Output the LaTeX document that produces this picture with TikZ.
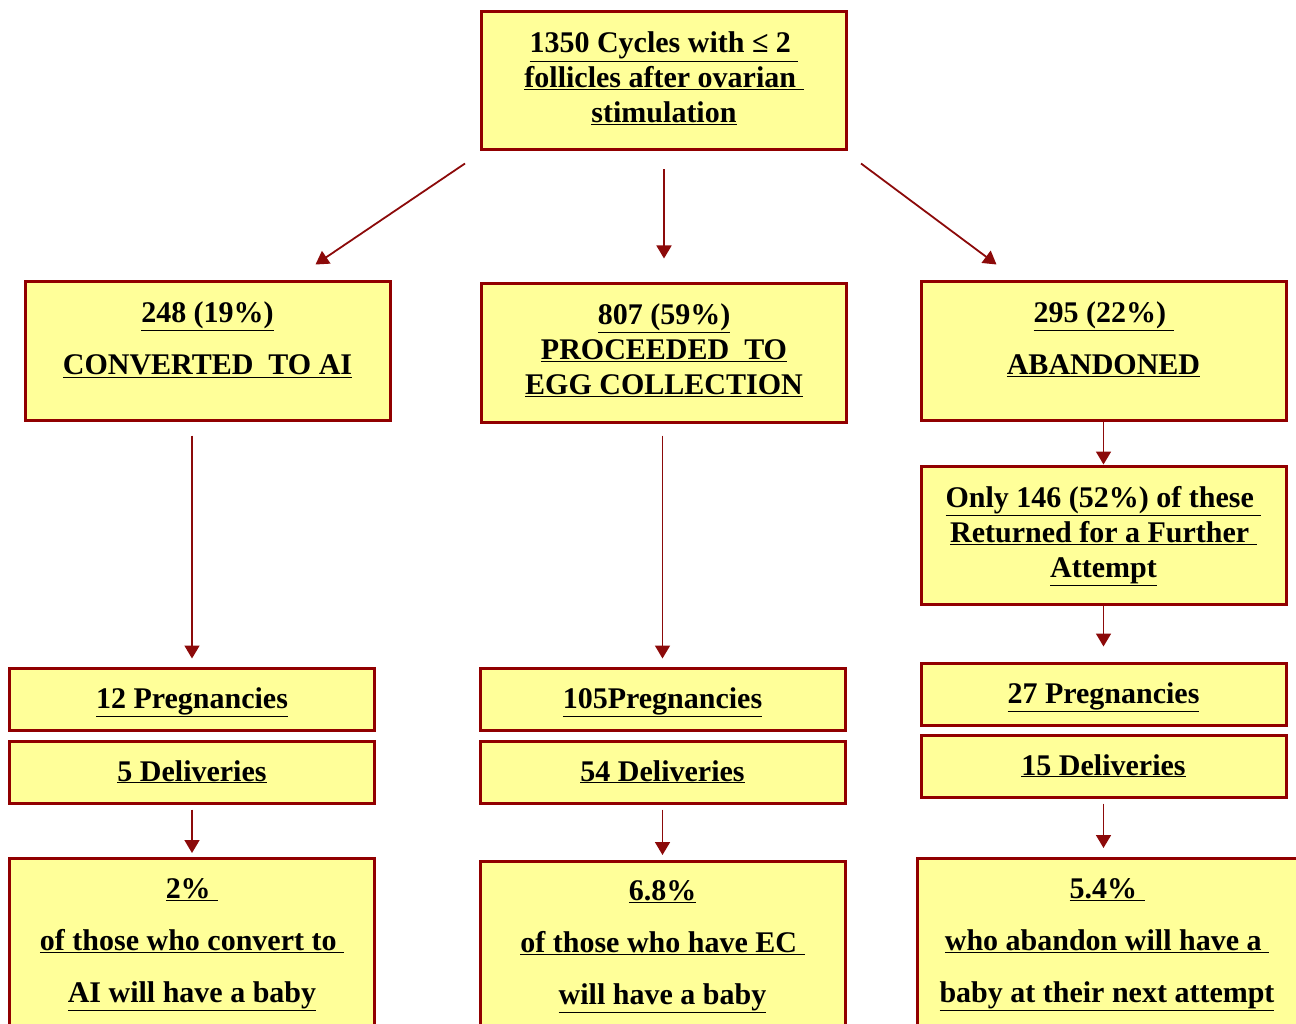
\documentclass[tikz,border=0pt]{standalone}
\usepackage{fontspec}
\setmainfont{Liberation Serif}
\usetikzlibrary{arrows.meta,calc}
\definecolor{boxred}{RGB}{145,0,0}
\definecolor{boxfill}{RGB}{255,255,153}
\definecolor{arrred}{RGB}{140,10,10}
\newcommand{\uln}[1]{\underline{#1}}
\tikzset{
  box/.style={draw=boxred, fill=boxfill, line width=3pt, minimum width=365pt,
    minimum height=138pt, inner sep=0pt, align=center,
    font=\bfseries\fontsize{30}{35}\selectfont},
  thinbox/.style={box, minimum height=62pt, text height=24pt, text depth=6pt},
  arr/.style={draw=arrred, line width=1.8pt, -{Triangle[length=13pt,width=15pt]}}
}
\begin{document}
\begin{tikzpicture}[x=1pt,y=-1pt]
    \useasboundingbox (0,0) rectangle (1296,1024);
    \clip (0,0) rectangle (1296,1024);
    % first row
    \node [box, text depth=7pt] (cycles) at (664,81) {\uln{1350 Cycles with ≤ 2\ }\\ \uln{follicles after ovarian\ }\\ \uln{stimulation}};
    % second row
    \node [box, text depth=25pt] (ai) at (207.5,351) {\uln{248 (19\%)}\\[17pt] \uln{CONVERTED\ \ TO AI}};
    \node [box, text depth=8pt] (ec) at (664,353) {\uln{807 (59\%)}\\ \uln{PROCEEDED\ \ TO}\\ \uln{EGG COLLECTION}};
    \node [box, text depth=25pt] (abandoned) at (1103.5,351) {\uln{295 (22\%)\ }\\[17pt] \uln{ABANDONED}};
    \node [box, text depth=7pt] (returned) at (1103.5,535) {\uln{Only 146 (52\%) of these\ }\\ \uln{Returned for a Further\ }\\ \uln{Attempt}};
    % pregnancies and deliveries
    \node [thinbox] (pregAI) at (192,699) {\uln{12 Pregnancies}};
    \node [thinbox] (pregEC) at (662.5,699) {\uln{105Pregnancies}};
    \node [thinbox] (pregAB) at (1103.5,694) {\uln{27 Pregnancies}};
    \node [thinbox] (delAI) at (192,772) {\uln{5 Deliveries}};
    \node [thinbox] (delEC) at (662.5,772) {\uln{54 Deliveries}};
    \node [thinbox] (delAB) at (1103.5,766) {\uln{15 Deliveries}};
    % results, cut by the page
    \node [box, anchor=north, minimum height=200pt, text depth=36pt] (resAI) at (192,857) {\uln{2\%\ }\\[17pt] \uln{of those who convert to\ }\\[17pt] \uln{AI will have a baby}};
    \node [box, anchor=north, minimum height=200pt, text depth=38pt] (resEC) at (662.5,860) {\uln{6.8\%}\\[17pt] \uln{of those who have EC\ }\\[17pt] \uln{will have a baby}};
    \node [box, anchor=north, minimum height=200pt, minimum width=380pt, text depth=36pt] (resAB) at (1107,857) {\uln{5.4\%\ }\\[17pt] \uln{who abandon will have a\ }\\[17pt] \uln{baby at their next attempt}};
    % arrows
    \draw [arr] ([xshift=-15pt,yshift=-12pt]cycles.south west) -- ([xshift=108pt,yshift=16pt]ai.north);
    \draw [arr] ([yshift=-18pt]cycles.south) -- ([yshift=24pt]ec.north);
    \draw [arr] ([xshift=13pt,yshift=-12pt]cycles.south east) -- ([xshift=-107pt,yshift=16pt]abandoned.north);
    \draw [arr, shorten <=14pt, shorten >=8pt] (ai.south -| pregAI) -- (pregAI);
    \draw [arr, shorten <=12pt, shorten >=8pt] (ec.south -| pregEC) -- (pregEC);
    \draw [arr] (abandoned) -- (returned);
    \draw [arr, shorten >=15pt] (returned) -- (pregAB);
    \draw [arr, shorten <=5pt, shorten >=4pt] (delAI) -- (delAI |- resAI.north);
    \draw [arr, shorten <=5pt, shorten >=5pt] (delEC) -- (delEC |- resEC.north);
    \draw [arr, shorten <=5pt, shorten >=9pt] (delAB) -- (delAB |- resAB.north);
\end{tikzpicture}
\end{document}
